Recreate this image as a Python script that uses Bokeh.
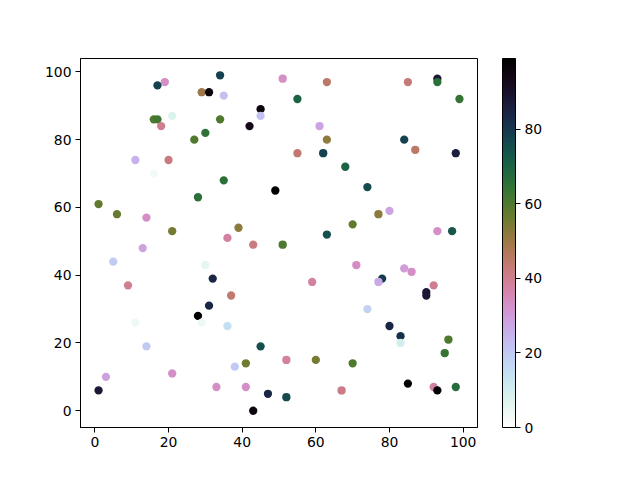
import numpy as np
from bokeh.plotting import figure
from bokeh.models import Range1d, LinearColorMapper, ColorBar, FixedTicker, ColumnDataSource
from bokeh.embed import file_html
from bokeh.resources import INLINE

xs = [19, 17, 34, 29, 31, 35, 45, 45, 42, 34,
      16, 17, 21, 18, 30, 27, 11, 20, 16, 35,
      49, 28, 1, 6, 14, 21, 39, 36, 43, 51,
      63, 85, 93, 93, 55, 99, 61, 63, 84, 87,
      55, 62, 98, 68, 74, 77, 80, 70, 63, 93,
      97, 51, 13, 5, 30, 32, 9, 37, 31, 28,
      11, 29, 36, 14, 45, 38, 41, 3, 21, 1,
      33, 41, 47, 43, 71, 59, 78, 77, 84, 86,
      92, 90, 90, 74, 80, 83, 83, 96, 95, 52,
      60, 70, 85, 92, 93, 98, 67, 52]
ys = [97, 96, 99, 94, 94, 93, 89, 87, 84, 86,
      86, 86, 87, 84, 82, 80, 74, 74, 70, 68,
      65, 63, 61, 58, 57, 53, 54, 51, 49, 98,
      97, 97, 98, 97, 92, 92, 84, 80, 80, 77,
      76, 76, 76, 72, 66, 58, 59, 55, 52, 53,
      53, 49, 48, 44, 43, 39, 37, 34, 31, 28,
      26, 26, 25, 19, 19, 13, 14, 10, 11, 6,
      7, 7, 5, 0, 43, 38, 39, 38, 42, 41,
      37, 35, 34, 30, 25, 22, 20, 21, 17, 15,
      15, 14, 8, 7, 6, 7, 6, 4]
cs = [33, 78, 78, 50, 96, 22, 96, 22, 93, 60,
      60, 62, 8, 40, 65, 60, 25, 42, 3, 66,
      99, 66, 58, 57, 33, 55, 52, 38, 42, 33,
      45, 43, 88, 66, 70, 64, 28, 52, 78, 45,
      44, 78, 86, 70, 76, 52, 28, 58, 75, 33,
      73, 60, 29, 20, 6, 84, 40, 44, 84, 99,
      4, 4, 15, 20, 75, 20, 56, 29, 33, 88,
      33, 33, 84, 95, 34, 38, 80, 27, 30, 33,
      40, 88, 88, 18, 84, 82, 10, 60, 64, 38,
      55, 60, 98, 38, 98, 67, 41, 76]

x_ticks = [0, 20, 40, 60, 80, 100]
y_ticks = [0, 20, 40, 60, 80, 100]
cb_ticks = [0, 20, 40, 60, 80]
c_low, c_high = 0, 99

# cubehelix_r palette (matplotlib default parameters)
def _ch(x, p0, p1):
    gamma, s, r, h = 1.0, 0.5, -1.5, 1.0
    xg = x ** gamma
    a = h * xg * (1 - xg) / 2
    phi = 2 * np.pi * (s / 3 + r * x)
    return np.clip(xg + a * (p0 * np.cos(phi) + p1 * np.sin(phi)), 0, 1)

t = 1 - np.linspace(0, 1, 256)
R = _ch(t, -0.14861, 1.78277)
G = _ch(t, -0.29227, -0.90649)
B = _ch(t, 1.97294, 0.0)
palette = ["#%02x%02x%02x" % (int(round(r * 255)), int(round(g * 255)), int(round(b * 255)))
           for r, g, b in zip(R, G, B)]

mapper = LinearColorMapper(palette=palette, low=c_low, high=c_high)

src = ColumnDataSource(dict(x=xs, y=ys, c=cs))

p = figure(width=632, height=472, output_backend="svg", toolbar_location=None,
           x_range=Range1d(-3.9, 103.9), y_range=Range1d(-4.95, 103.95),
           min_border_left=80, min_border_top=58, min_border_bottom=45, min_border_right=155)

p.scatter("x", "y", source=src, size=8.3,
          fill_color={"field": "c", "transform": mapper},
          line_color={"field": "c", "transform": mapper}, line_width=0)

p.grid.visible = False
p.outline_line_color = "black"
p.outline_line_width = 1
p.background_fill_color = "white"
p.border_fill_color = "white"

for ax, ticks in ((p.xaxis[0], x_ticks), (p.yaxis[0], y_ticks)):
    ax.ticker = FixedTicker(ticks=ticks)
    ax.minor_tick_line_color = None
    ax.major_tick_in = 0
    ax.major_tick_out = 5
    ax.major_tick_line_color = "black"
    ax.axis_line_color = "black"
    ax.major_label_text_font = "DejaVu Sans"
    ax.major_label_text_font_size = "13.9px"
    ax.major_label_text_color = "black"
    ax.major_label_standoff = 4

cb = ColorBar(color_mapper=mapper, ticker=FixedTicker(ticks=cb_ticks), width=13, height=369,
              location=(422, 0), margin=0, padding=0, major_tick_in=0, major_tick_out=5,
              major_tick_line_color="black", bar_line_color="black",
              minor_tick_line_color=None,
              major_label_text_font="DejaVu Sans", major_label_text_font_size="13.9px",
              major_label_text_color="black", label_standoff=4,
              background_fill_color=None, border_line_color=None)
p.add_layout(cb, "center")

open("out.html", "w").write(file_html(p, INLINE))
